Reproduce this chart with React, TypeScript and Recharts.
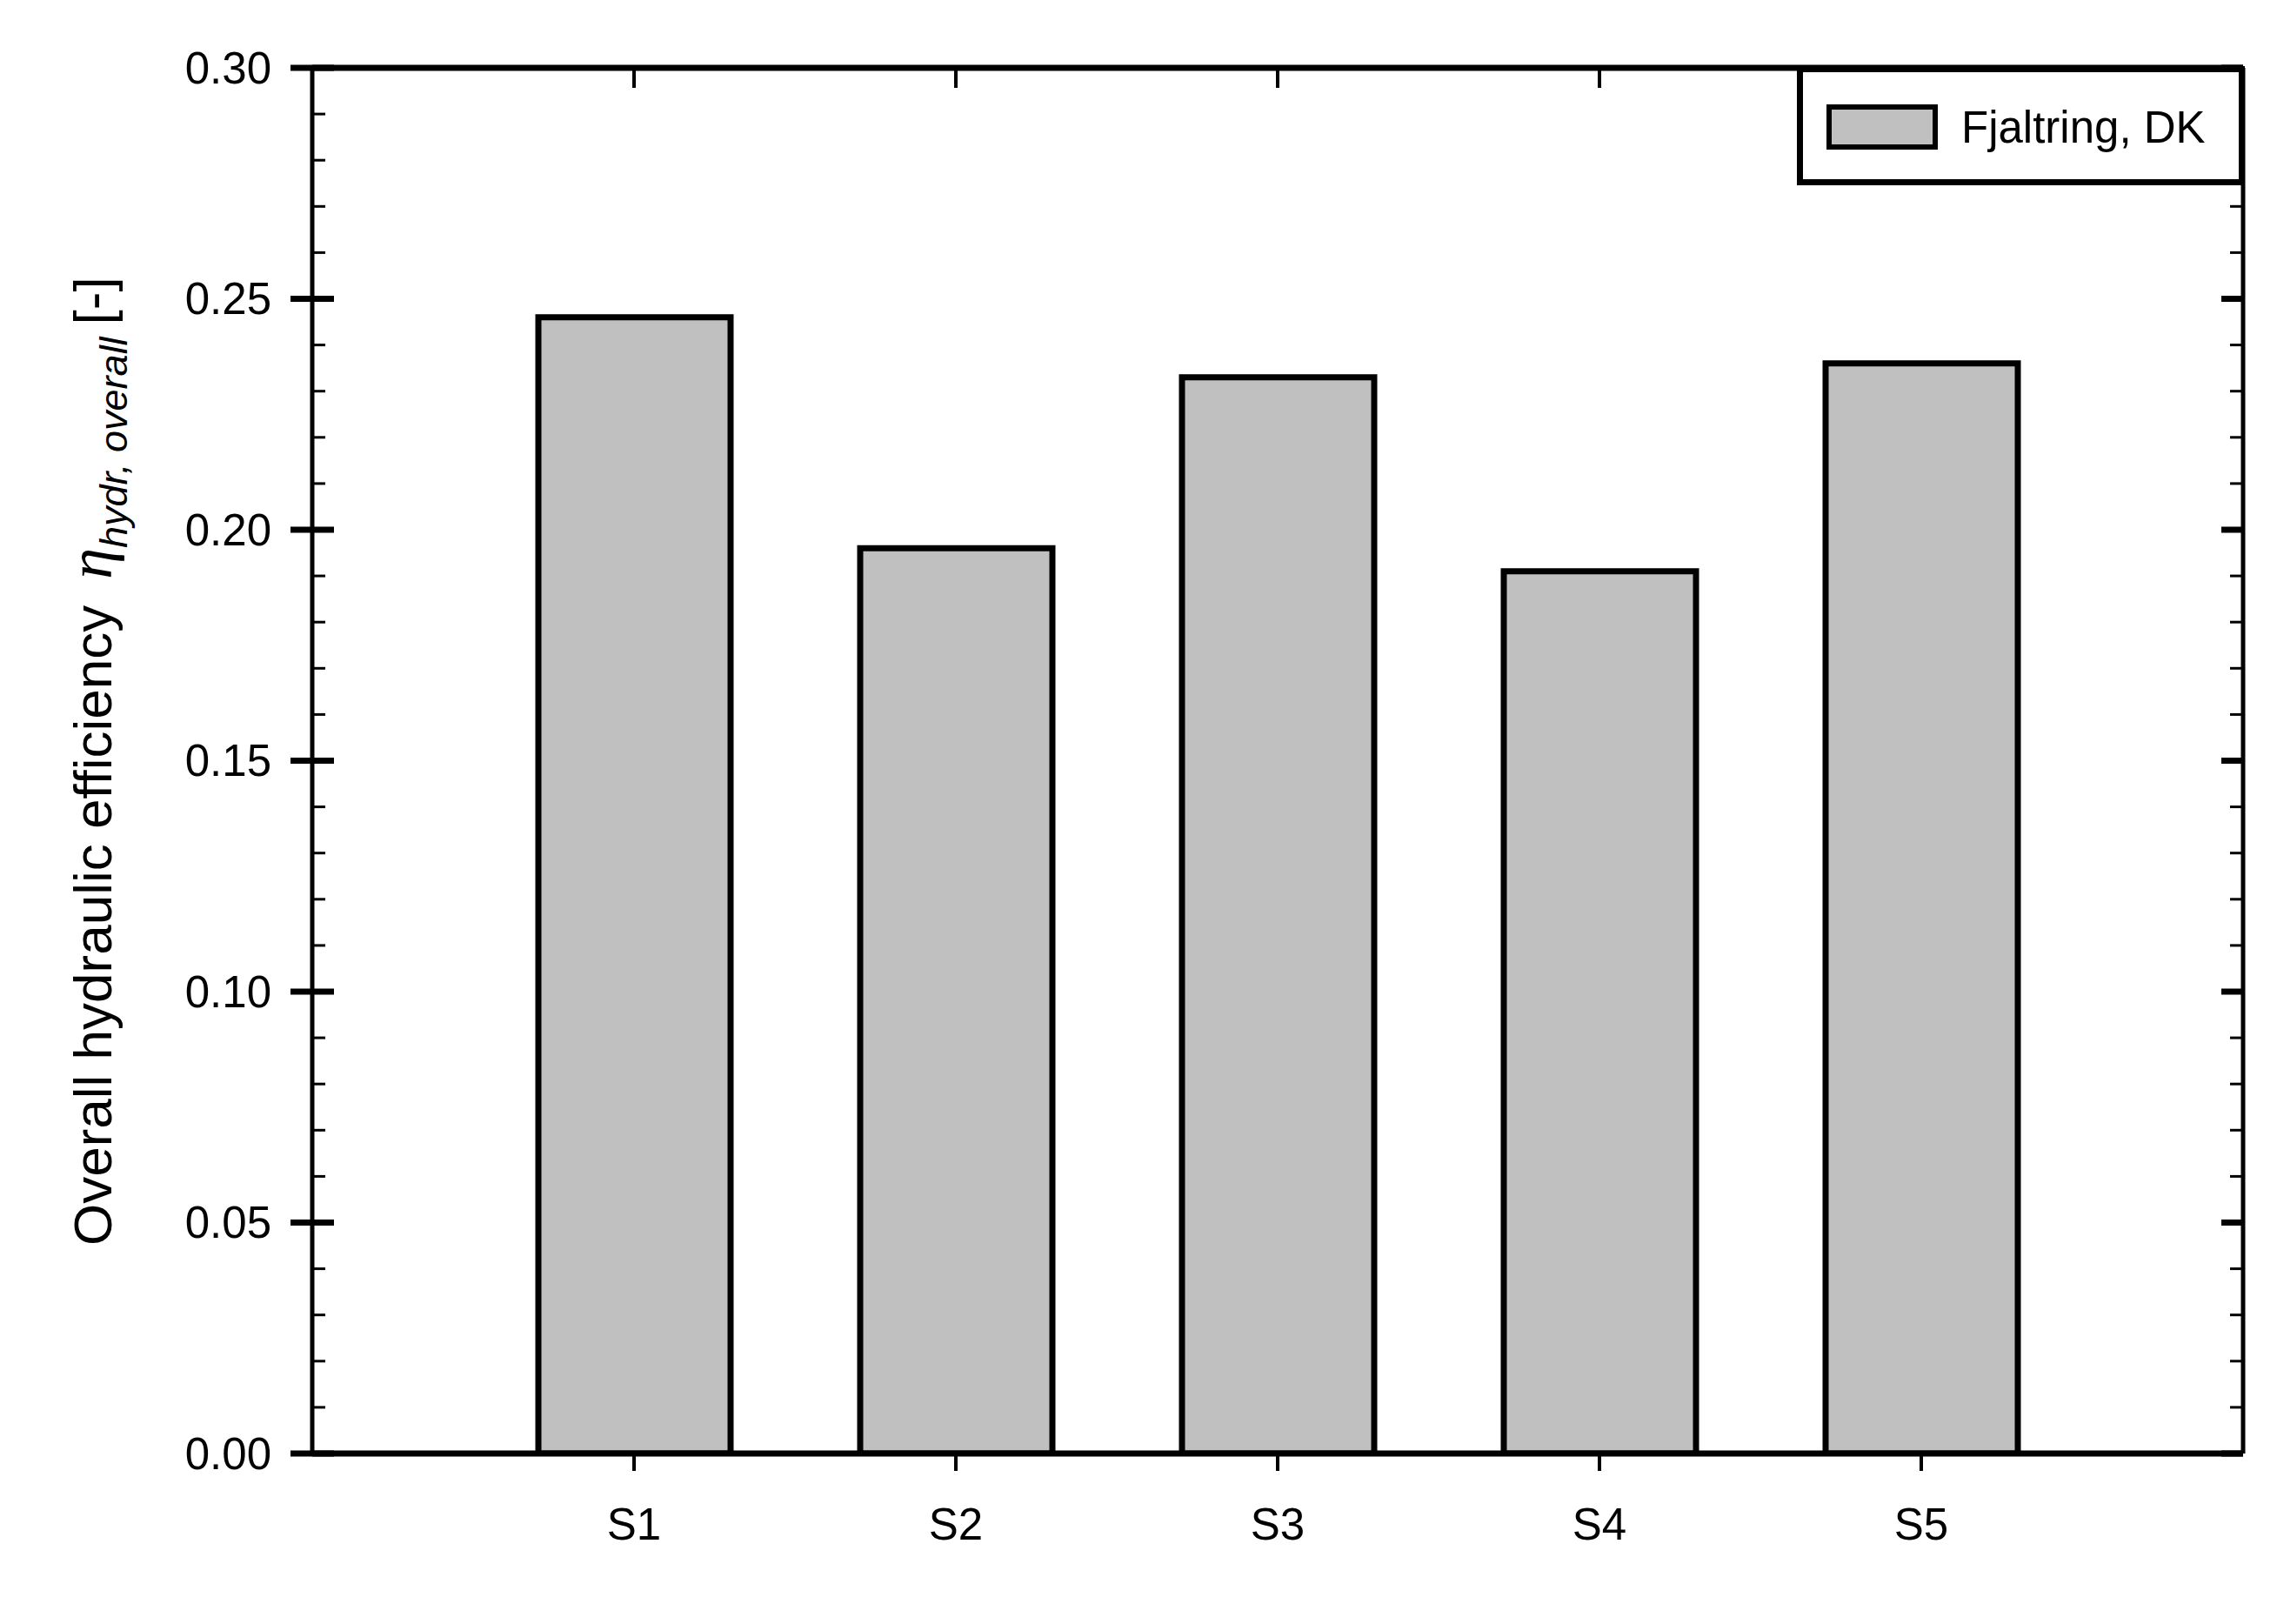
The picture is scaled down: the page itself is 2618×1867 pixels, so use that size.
import { BarChart, Bar, XAxis, YAxis, Legend } from 'recharts';

// sites along the x axis and their measured efficiency
const categories = ['S1', 'S2', 'S3', 'S4', 'S5'];
const efficiency = [0.246, 0.196, 0.233, 0.191, 0.236];
const seriesName = 'Fjaltring, DK';

// x positions of the categories (axis runs 0..6)
const positions = [1, 2, 3, 4, 5];

// y ticks: majors every 0.05, minors every 0.01
const yTicks = [
  0, 0.01, 0.02, 0.03, 0.04, 0.05, 0.06, 0.07, 0.08, 0.09, 0.1, 0.11, 0.12, 0.13, 0.14, 0.15,
  0.16, 0.17, 0.18, 0.19, 0.2, 0.21, 0.22, 0.23, 0.24, 0.25, 0.26, 0.27, 0.28, 0.29, 0.3,
];

const data = categories.map((name, i) => ({
  name,
  pos: positions[i],
  value: efficiency[i],
}));

const FONT = '"Liberation Sans", Arial, Helvetica, sans-serif';
const isMajor = (v: number) => Math.round(v * 100) % 5 === 0;

const LeftTick = (props: any) => {
  const { x, y, payload } = props;
  const v = payload.value as number;
  if (!isMajor(v)) {
    return <line x1={x} x2={x + 15} y1={y} y2={y} stroke="#000" strokeWidth={3} />;
  }
  return (
    <g>
      <line x1={x - 25} x2={x + 25} y1={y} y2={y} stroke="#000" strokeWidth={7} />
      <text x={x - 47} y={y} textAnchor="end" dominantBaseline="central" fontSize={51} fontFamily={FONT} fill="#000">
        {v.toFixed(2)}
      </text>
    </g>
  );
};

const RightTick = (props: any) => {
  const { x, y, payload } = props;
  const v = payload.value as number;
  const len = isMajor(v) ? 25 : 15;
  return <line x1={x - len} x2={x} y1={y} y2={y} stroke="#000" strokeWidth={isMajor(v) ? 7 : 3} />;
};

const BottomTick = (props: any) => {
  const { x, y, payload } = props;
  const label = categories[(payload.value as number) - 1];
  return (
    <g>
      <line x1={x} x2={x} y1={y} y2={y + 20} stroke="#000" strokeWidth={4} />
      <text x={x} y={y + 99} textAnchor="middle" fontSize={51} fontFamily={FONT} fill="#000">
        {label}
      </text>
    </g>
  );
};

const TopTick = (props: any) => {
  const { x, y } = props;
  return <line x1={x} x2={x} y1={y} y2={y + 23} stroke="#000" strokeWidth={4} />;
};

const YLabel = () => {
  const bx = 128;
  const by = 1432;
  return (
    <text transform={`translate(${bx},${by}) rotate(-90)`} x={0} y={0} fontFamily={FONT} fontSize={62} fill="#000">
      <tspan>Overall hydraulic efficiency</tspan>
      <tspan dx={30} fontFamily='"Liberation Serif", "Times New Roman", serif' fontStyle="italic" fontSize={72}>
        η
      </tspan>
      <tspan dy={18} fontSize={45} fontStyle="italic">
        hydr, overall
      </tspan>
      <tspan dy={-18} dx={14}>
        [-]
      </tspan>
    </text>
  );
};

const renderLegend = (props: any) => {
  const { payload } = props;
  return (
    <svg width={515} height={137} style={{ display: 'block' }}>
      <rect x={3.5} y={3.5} width={508} height={130} fill="#fff" stroke="#000" strokeWidth={7} />
      {(payload || []).map((p: any, i: number) => (
        <g key={i}>
          <rect x={37} y={47} width={122} height={46} fill={p.color || '#c0c0c0'} stroke="#000" strokeWidth={6} />
          <text x={189} y={88} fontSize={51} fontFamily={FONT} fill="#000">
            {p.value}
          </text>
        </g>
      ))}
    </svg>
  );
};

export default function App() {
  return (
    <div style={{ position: 'absolute', left: 0, top: 0, background: '#fff' }}>
      <BarChart width={2618} height={1867} data={data} margin={{ top: 0, right: 0, bottom: 0, left: 0 }} style={{ fontFamily: FONT }}>
        <XAxis
          dataKey="pos"
          type="number"
          domain={[0, 6]}
          ticks={positions}
          interval={0}
          allowDataOverflow
          height={196}
          tickSize={0}
          tickMargin={0}
          tick={<BottomTick />}
          axisLine={{ stroke: '#000', strokeWidth: 7 }}
          tickLine={false}
        />
        <XAxis
          xAxisId="top"
          orientation="top"
          dataKey="pos"
          type="number"
          domain={[0, 6]}
          ticks={positions}
          interval={0}
          allowDataOverflow
          height={78}
          tickSize={0}
          tickMargin={0}
          tick={<TopTick />}
          axisLine={{ stroke: '#000', strokeWidth: 7 }}
          tickLine={false}
        />
        <YAxis
          type="number"
          domain={[0, 0.3]}
          ticks={yTicks}
          interval={0}
          allowDataOverflow
          width={359}
          tickSize={0}
          tickMargin={0}
          tick={<LeftTick />}
          axisLine={{ stroke: '#000', strokeWidth: 5 }}
          tickLine={false}
          label={{ content: <YLabel /> }}
        />
        <YAxis
          yAxisId="right"
          orientation="right"
          type="number"
          domain={[0, 0.3]}
          ticks={yTicks}
          interval={0}
          allowDataOverflow
          width={39}
          tickSize={0}
          tickMargin={0}
          tick={<RightTick />}
          axisLine={{ stroke: '#000', strokeWidth: 5 }}
          tickLine={false}
        />
        <Legend
          content={renderLegend}
          layout="horizontal"
          verticalAlign="middle"
          align="center"
          wrapperStyle={{ left: 2066, top: 76, width: 515, height: 137 }}
        />
        <Bar
          dataKey="value"
          name={seriesName}
          fill="#c0c0c0"
          stroke="#000"
          strokeWidth={7}
          barSize={221}
          isAnimationActive={false}
        />
      </BarChart>
    </div>
  );
}
